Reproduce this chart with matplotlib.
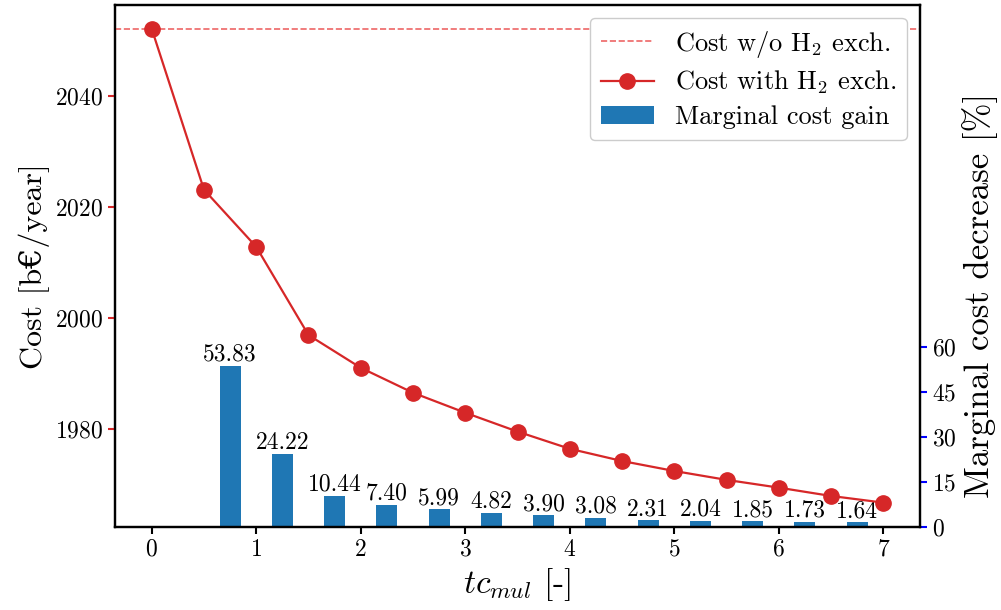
import matplotlib
matplotlib.use('Agg')
import matplotlib.pyplot as plt

plt.rcParams['font.family'] = ['cmr10', 'DejaVu Serif']
plt.rcParams['mathtext.fontset'] = 'cm'
plt.rcParams['axes.formatter.use_mathtext'] = True

# data
tc_mul = [0, 0.5, 1, 1.5, 2, 2.5, 3, 3.5, 4, 4.5, 5, 5.5, 6, 6.5, 7]
cost_with = [2052.1, 2023.1, 2012.8, 1996.9, 1991.0, 1986.5, 1982.9, 1979.5,
             1976.4, 1974.2, 1972.4, 1970.8, 1969.4, 1967.9, 1966.7]
cost_without = 2052.1
bar_x = [0.75, 1.25, 1.75, 2.25, 2.75, 3.25, 3.75, 4.25, 4.75, 5.25, 5.75, 6.25, 6.75]
marginal_gain = [53.83, 24.22, 10.44, 7.40, 5.99, 4.82, 3.90, 3.08, 2.31, 2.04, 1.85, 1.73, 1.64]

fig, ax1 = plt.subplots(figsize=(10.01, 6.10), dpi=100)
ax2 = ax1.twinx()

l1 = ax1.axhline(cost_without, color='#ee6666', ls='--', lw=1.2, label='Cost w/o H$_2$ exch.')
l2, = ax1.plot(tc_mul, cost_with, color='#d62728', marker='o', ms=11, lw=1.6,
               label='Cost with H$_2$ exch.')
bars = ax2.bar(bar_x, marginal_gain, width=0.2, color='#1f77b4', label='Marginal cost gain')
ax2.bar_label(bars, labels=[f'{v:.2f}' for v in marginal_gain], fontsize=17, padding=0)

ax1.set_zorder(ax2.get_zorder() + 1)
ax1.patch.set_visible(False)

ax1.set_ylim(1962.3, 2056.4)
ax1.set_yticks([1980, 2000, 2020, 2040])
ax2.set_ylim(0, 174)
ax2.set_yticks([0, 15, 30, 45, 60])
ax1.set_xticks(range(8))

ax1.set_xlabel('$tc_{mul}$ [-]', fontsize=24)
ax1.set_ylabel('Cost [b€/year]', fontsize=23)
ax2.set_ylabel('Marginal cost decrease [%]', fontsize=25)
ax2.yaxis.label.set_y(0.443)

ax1.tick_params(axis='y', colors='#d62728', labelcolor='black', labelsize=17, length=5, width=1.5)
ax1.tick_params(axis='x', labelsize=17, length=5, width=1.5)
ax2.tick_params(axis='y', colors='#0000ff', labelcolor='black', labelsize=17, length=5, width=1.5)
for sp in ax1.spines.values():
    sp.set_linewidth(1.6)
for sp in ax2.spines.values():
    sp.set_linewidth(1.6)

leg = ax1.legend(handles=[l1, l2, bars], loc='upper right', fontsize=19, framealpha=1,
                 labelspacing=0.35, borderpad=0.4)
leg.get_frame().set_edgecolor('#cccccc')

fig.subplots_adjust(left=0.115, right=0.919, top=0.992, bottom=0.136)
fig.savefig('out.png', dpi=100)
